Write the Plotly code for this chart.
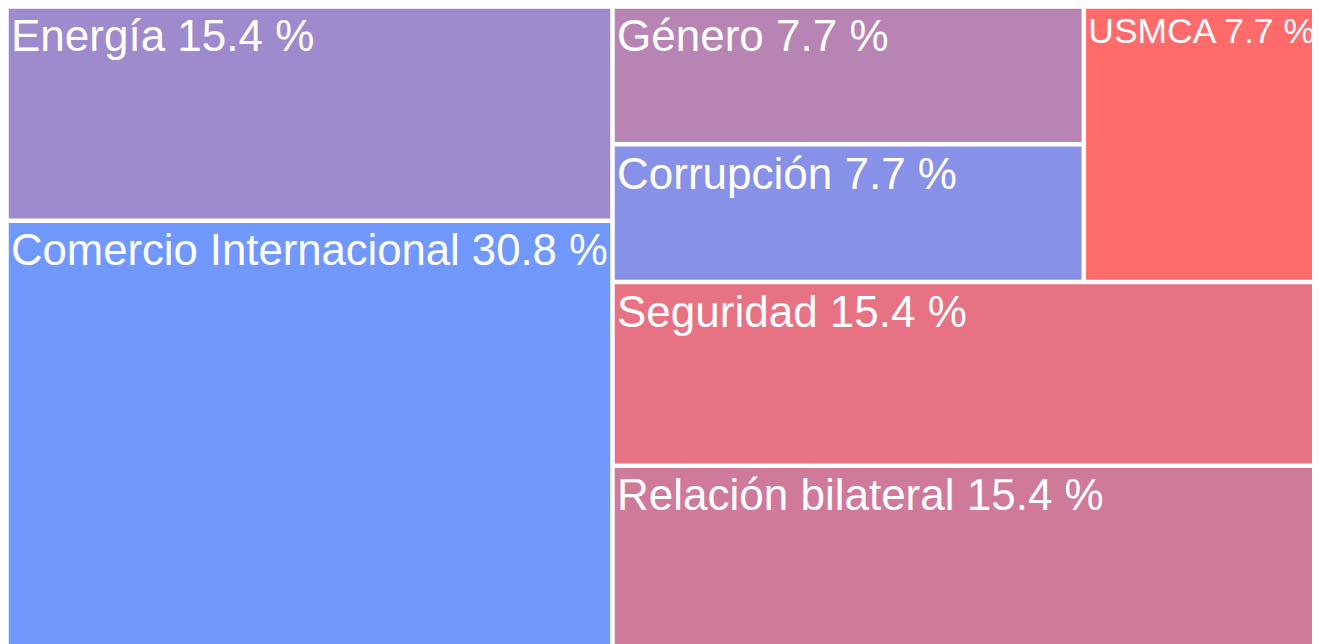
import plotly.graph_objects as go

# Leaf data (topics, counts)
labels = ["Energía", "Comercio Internacional", "Género", "Corrupción", "USMCA",
          "Seguridad", "Relación bilateral"]
values = [2, 4, 1, 1, 1, 2, 2]
colors = ["#A08ACE", "#7098FF", "#B784B4", "#8891E8", "#FF6B6B", "#E77283", "#CF7A9A"]
# grouping used only to arrange the tiles
groups = ["izq", "izq", "sup_gc", "sup_gc", "sup", "der", "der"]

group_ids = ["izq", "der", "sup", "sup_gc"]
group_parents = ["", "", "der", "sup"]

total = sum(values)
leaf_text = [f"{l} {v / total * 100:.1f} %" for l, v in zip(labels, values)]

ids = group_ids + labels
parents = group_parents + groups
vals = [0] * len(group_ids) + values
txt = [""] * len(group_ids) + leaf_text
cols = ["white"] * len(group_ids) + colors

fig = go.Figure(go.Treemap(
    ids=ids,
    labels=ids,
    parents=parents,
    values=vals,
    text=txt,
    texttemplate="%{text}",
    textposition="top left",
    textfont=dict(color="white", size=44, family="Arial"),
    marker=dict(colors=cols, line=dict(color="white", width=1.5),
                pad=dict(t=0, l=0, r=0, b=0)),
    tiling=dict(packing="slice-dice", pad=3),
    sort=False,
    pathbar=dict(visible=False),
    hoverinfo="text",
))
fig.update_layout(width=1310, height=640, margin=dict(l=0, r=0, t=0, b=0),
                  paper_bgcolor="white")
fig.write_html("out.html")
